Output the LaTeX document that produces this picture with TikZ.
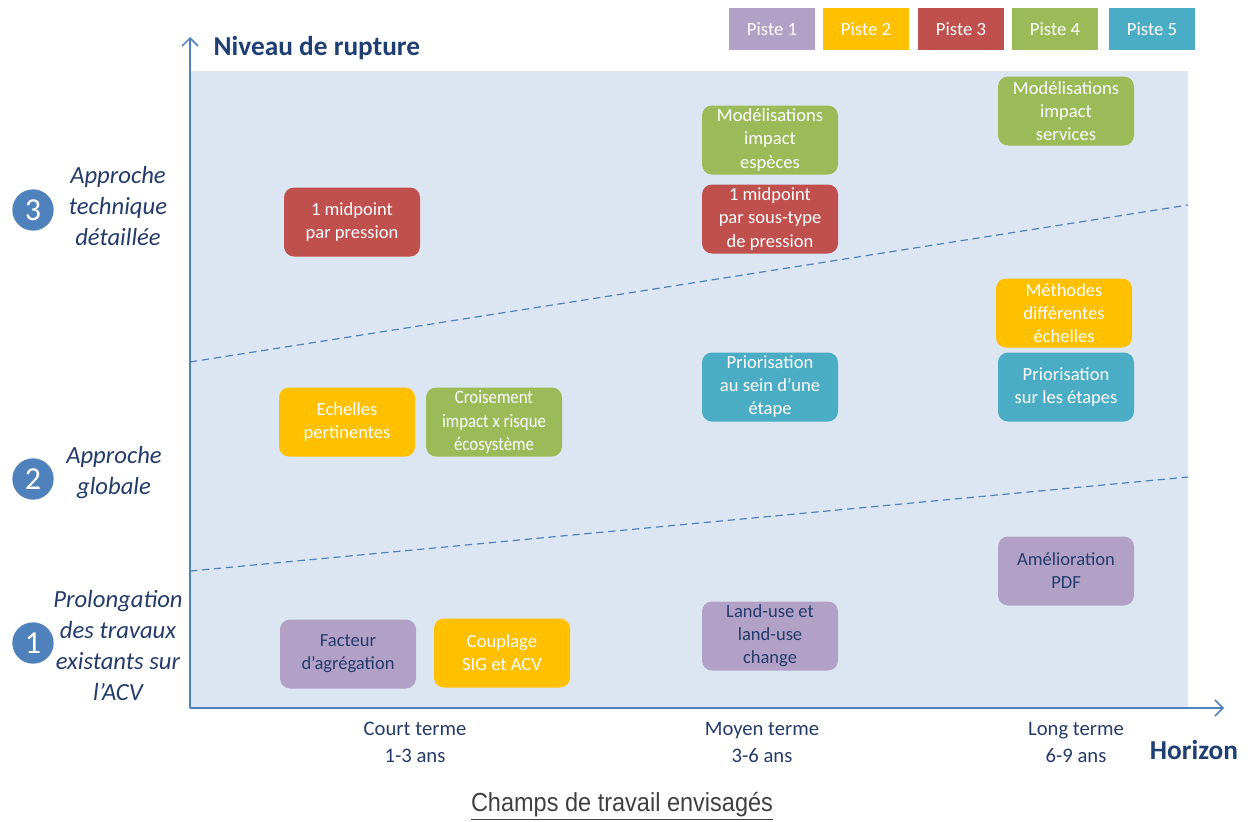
\documentclass[tikz,border=0pt]{standalone}
\usepackage{fontspec}
\setmainfont{Carlito}
\newfontfamily\condfont[FakeStretch=0.88]{Carlito}
\newfontfamily\titlefont[FakeStretch=0.9]{Liberation Sans}
\usetikzlibrary{arrows.meta}
\definecolor{bgblue}{HTML}{DCE6F2}
\definecolor{axisblue}{HTML}{4F81BD}
\definecolor{dkblue}{HTML}{1F3F73}
\definecolor{txtblue}{HTML}{243B6B}
\definecolor{cpurple}{HTML}{B2A1C7}
\definecolor{cyellow}{HTML}{FFC000}
\definecolor{cred}{HTML}{C0504D}
\definecolor{cgreen}{HTML}{9BBB59}
\definecolor{cteal}{HTML}{4BACC6}
\definecolor{titlegray}{HTML}{404040}
\tikzset{
  card/.style={rounded corners=7.5pt, minimum width=102pt, minimum height=51.75pt,
    inner sep=0pt, align=center, text=white,
    font=\fontsize{13.9}{17.3}\selectfont},
  purplecard/.style={card, fill=cpurple, text=txtblue},
  yellowcard/.style={card, fill=cyellow},
  redcard/.style={card, fill=cred},
  greencard/.style={card, fill=cgreen},
  tealcard/.style={card, fill=cteal},
  legendbox/.style={minimum width=64.5pt, minimum height=31.5pt, inner sep=0pt,
    text=white, font=\fontsize{14}{17}\selectfont},
  levellabel/.style={align=center, text=txtblue,
    font=\fontsize{18.5}{23.25}\selectfont\itshape},
  levelnum/.style={circle, fill=axisblue, minimum size=31pt, inner sep=0pt,
    text=white, font=\fontsize{24}{28}\selectfont},
  horizonlabel/.style={align=center, text=txtblue, font=\fontsize{15.5}{20.2}\selectfont},
  axistitle/.style={text=dkblue, font=\fontsize{20.5}{24}\selectfont\bfseries},
  axisline/.style={draw=axisblue, line width=1.1pt, -{Straight Barb[length=6pt,width=12pt]}},
  sepline/.style={draw=axisblue, line width=0.9pt, dash pattern=on 5.5pt off 3.5pt}
}
\begin{document}
\begin{tikzpicture}[x=0.75pt,y=-0.75pt]
\useasboundingbox (0,0) rectangle (1248,821);
% background
\fill[bgblue] (190,71) rectangle (1188,708);
% dashed separators
\coordinate (s1a) at (190,362); \coordinate (s1b) at (1188,205);
\coordinate (s2a) at (190,571); \coordinate (s2b) at (1188,477);
\draw[sepline] (s1a) -- (s1b);
\draw[sepline] (s2a) -- (s2b);
% axes
\coordinate (O) at (190,708);
\coordinate (ytop) at (190,37);
\coordinate (xend) at (1224,708);
\draw[axisline] (O) -- (ytop);
\draw[axisline] (O) -- (xend);
\node[axistitle, anchor=west] (niveau) at (209,48) {Niveau de rupture};
\node[axistitle] (horizon) at (1194,750) {Horizon};
% legend
\node[legendbox, fill=cpurple] (p1) at (772,29) {Piste 1};
\node[legendbox, fill=cyellow] (p2) at (866,29) {Piste 2};
\node[legendbox, fill=cred] (p3) at (961,29) {Piste 3};
\node[legendbox, fill=cgreen] (p4) at (1055,29) {Piste 4};
\node[legendbox, fill=cteal] (p5) at (1152,29) {Piste 5};
% levels
\node[levelnum] (n3) at (33,210) {3};
\node[levelnum] (n2) at (33,479) {2};
\node[levelnum] (n1) at (33,643) {1};
\node[levellabel] (l3) at (118,206) {Approche\\technique\\détaillée};
\node[levellabel] (l2) at (114,473) {Approche\\globale};
\node[levellabel] (l1) at (118,646) {Prolongation\\des travaux\\existants sur\\l’ACV};
% horizon labels
\node[horizonlabel] (court) at (415,742) {Court terme\\1-3 ans};
\node[horizonlabel] (moyen) at (762,742) {Moyen terme\\3-6 ans};
\node[horizonlabel] (long) at (1076,742) {Long terme\\6-9 ans};
% cards
\node[redcard] (mid1) at (352,222) {1 midpoint\\par pression};
\node[greencard] (modesp) at (770,140) {Modélisations\\impact\\espèces};
\node[redcard] (mid2) at (770,219) {1 midpoint\\par sous-type\\de pression};
\node[greencard] (modserv) at (1066,111) {Modélisations\\impact\\services};
\node[yellowcard] (meth) at (1064,313) {Méthodes\\différentes\\échelles};
\node[tealcard] (prio1) at (770,387) {Priorisation\\au sein d’une\\étape};
\node[tealcard] (prio2) at (1066,387) {Priorisation\\sur les étapes};
\node[yellowcard] (ech) at (347,422) {Echelles\\pertinentes};
\node[greencard, font=\condfont\fontsize{14.3}{17.6}\selectfont] (crois) at (494,422) {Croisement\\impact x risque\\écosystème};
\node[purplecard] (amel) at (1066,571) {Amélioration\\PDF};
\node[purplecard] (land) at (770,636) {Land-use et\\land-use\\change};
\node[purplecard] (fact) at (348,654) {Facteur\\d’agrégation};
\node[yellowcard] (coup) at (502,653) {Couplage\\SIG et ACV};
% title
\node[text=titlegray, font=\titlefont\fontsize{19.6}{23}\selectfont] (title) at (622,806) {\underline{Champs de travail envisagés}};
\end{tikzpicture}
\end{document}
